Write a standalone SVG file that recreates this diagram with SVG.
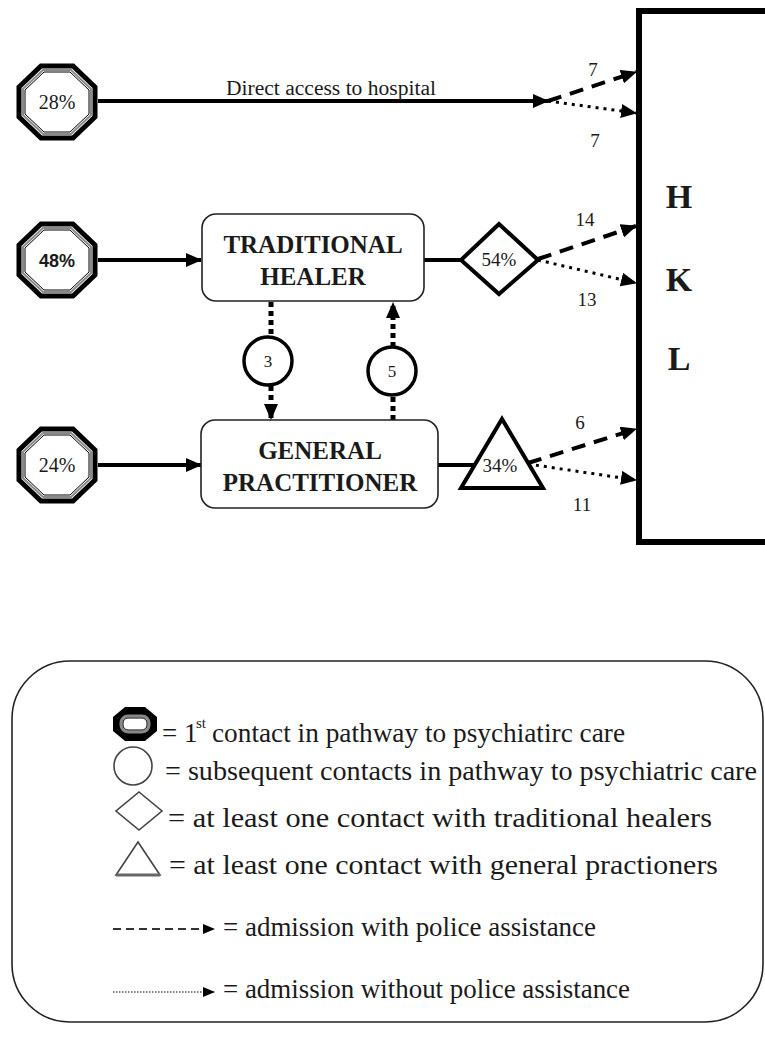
<svg xmlns="http://www.w3.org/2000/svg" width="765" height="1050" viewBox="0 0 765 1050">
<style>
text{font-family:"Times New Roman","Liberation Serif",Tinos,"Noto Serif",serif;fill:#1a1a1a}
.bold{font-weight:bold}
.box{fill:#fff;stroke:#222;stroke-width:1.6}
.solid{stroke:#000;stroke-width:4;fill:none}
.dash{stroke:#000;stroke-width:4;fill:none;stroke-dasharray:14 9}
.dot{stroke:#000;stroke-width:3;fill:none;stroke-dasharray:3 5}
.vdot{stroke:#000;stroke-width:5;fill:none;stroke-dasharray:5 4}
.shape{fill:#fff;stroke:#000;stroke-width:4}
.lg{fill:#fff;stroke:#444;stroke-width:1.6}
</style>
<defs>
<marker id="ah" markerUnits="userSpaceOnUse" markerWidth="16" markerHeight="14" refX="15" refY="7" orient="auto">
<path d="M0,0 L16,7 L0,14 z" fill="#000"/>
</marker>
<marker id="ahs" markerUnits="userSpaceOnUse" markerWidth="12" markerHeight="10" refX="11" refY="5" orient="auto">
<path d="M0,0 L12,5 L0,10 z" fill="#000"/>
</marker>
<g id="oct">
<polygon points="-16,-36 16,-36 38,-15 38,15 16,36 -16,36 -38,15 -38,-15" fill="#fff" stroke="#000" stroke-width="5"/>
<polygon points="-14,-32 14,-32 34,-13 34,13 14,32 -14,32 -34,13 -34,-13" fill="none" stroke="#8a8a8a" stroke-width="2"/>
<polygon points="-13,-30 13,-30 32,-12 32,12 13,30 -13,30 -32,12 -32,-12" fill="none" stroke="#000" stroke-width="1"/>
</g>
</defs>

<g id="connectors">
<line class="solid" x1="98" y1="101" x2="548" y2="101" marker-end="url(#ah)"/>
<line class="dash" x1="548" y1="101" x2="636" y2="72" marker-end="url(#ah)"/>
<line class="dot" x1="548" y1="101" x2="636" y2="113" marker-end="url(#ah)"/>
<line class="solid" x1="98" y1="260" x2="201" y2="260" marker-end="url(#ah)"/>
<line class="solid" x1="424" y1="260" x2="461" y2="260"/>
<line class="dash" x1="538" y1="259" x2="636" y2="226" marker-end="url(#ah)"/>
<line class="dot" x1="538" y1="260" x2="636" y2="283" marker-end="url(#ah)"/>
<line class="solid" x1="98" y1="465" x2="201" y2="465" marker-end="url(#ah)"/>
<line class="solid" x1="438" y1="465" x2="474" y2="465"/>
<line class="dash" x1="528" y1="463" x2="636" y2="429" marker-end="url(#ah)"/>
<line class="dot" x1="528" y1="464" x2="636" y2="480" marker-end="url(#ah)"/>
<line class="vdot" x1="271" y1="302" x2="271" y2="337"/>
<line class="vdot" x1="271" y1="386" x2="271" y2="419" marker-end="url(#ah)"/>
<line class="vdot" x1="393" y1="420" x2="393" y2="396"/>
<line class="vdot" x1="393" y1="347" x2="393" y2="303" marker-end="url(#ah)"/>
<text x="331" y="95" font-size="20" text-anchor="middle" textLength="210" lengthAdjust="spacingAndGlyphs">Direct access to hospital</text>
<text x="593" y="76" font-size="19" text-anchor="middle">7</text>
<text x="595" y="147" font-size="19" text-anchor="middle">7</text>
<text x="585" y="226" font-size="19" text-anchor="middle">14</text>
<text x="587" y="306" font-size="19" text-anchor="middle">13</text>
<text x="580" y="429" font-size="19" text-anchor="middle">6</text>
<text x="582" y="511" font-size="19" text-anchor="middle">11</text>
</g>

<g id="start-hospital">
<use href="#oct" x="57" y="102"/>
<text x="57" y="109" font-size="20" text-anchor="middle">28%</text>
</g>
<g id="start-healer">
<use href="#oct" x="57" y="260"/>
<text x="57" y="267" font-size="18" font-weight="bold" style="font-family:Arial,'Liberation Sans',sans-serif" fill="#222" text-anchor="middle">48%</text>
</g>
<g id="start-gp">
<use href="#oct" x="57" y="465"/>
<text x="57" y="472" font-size="20" text-anchor="middle">24%</text>
</g>

<g id="traditional-healer">
<rect class="box" x="202" y="214" width="222" height="87" rx="14"/>
<text class="bold" x="313" y="253" font-size="25" text-anchor="middle">TRADITIONAL</text>
<text class="bold" x="313" y="285" font-size="25" text-anchor="middle">HEALER</text>
</g>

<g id="general-practitioner">
<rect class="box" x="201" y="420" width="237" height="88" rx="14"/>
<text class="bold" x="320" y="459" font-size="25" text-anchor="middle">GENERAL</text>
<text class="bold" x="320" y="491" font-size="25" text-anchor="middle">PRACTITIONER</text>
</g>

<g id="th-to-gp">
<circle cx="268" cy="361" r="24" fill="#fff" stroke="#000" stroke-width="3.5"/>
<text x="268" y="367" font-size="17" text-anchor="middle">3</text>
</g>
<g id="gp-to-th">
<circle cx="392" cy="371" r="24" fill="#fff" stroke="#000" stroke-width="3.5"/>
<text x="392" y="377" font-size="17" text-anchor="middle">5</text>
</g>

<g id="healer-contact">
<polygon class="shape" points="499,224 538,260 499,294 461,260"/>
<text x="499" y="266" font-size="19" text-anchor="middle">54%</text>
</g>

<g id="gp-contact">
<polygon class="shape" points="502,419 543,488 461,488"/>
<text x="500" y="472" font-size="19" text-anchor="middle">34%</text>
</g>

<g id="hkl">
<rect x="639" y="11" width="140" height="531" fill="#fff" stroke="#000" stroke-width="6"/>
<text class="bold" x="679" y="208" font-size="34" text-anchor="middle">H</text>
<text class="bold" x="679" y="291" font-size="34" text-anchor="middle">K</text>
<text class="bold" x="679" y="370" font-size="34" text-anchor="middle">L</text>
</g>

<g id="legend">
<rect x="12" y="661" width="751" height="361" rx="58" fill="#fff" stroke="#222" stroke-width="1.6"/>
<polygon points="125,707 145,707 157,717 157,731 145,741 125,741 113,731 113,717" fill="#000"/>
<rect x="121" y="716" width="28" height="16" rx="7" fill="#fff" stroke="#888" stroke-width="3"/>
<rect x="123" y="718" width="24" height="12" rx="5" fill="none" stroke="#000" stroke-width="1"/>
<text x="162" y="742" font-size="27">= 1</text>
<text x="196" y="728" font-size="15">st</text>
<text x="212" y="742" font-size="27" textLength="413" lengthAdjust="spacingAndGlyphs">contact in pathway to psychiatirc care</text>
<circle class="lg" cx="133" cy="766" r="19"/>
<text x="165" y="780" font-size="27" textLength="592" lengthAdjust="spacingAndGlyphs">= subsequent contacts in pathway to psychiatric care</text>
<polygon class="lg" points="139,792 162,811 139,830 116,811"/>
<text x="168" y="827" font-size="27" textLength="544" lengthAdjust="spacingAndGlyphs">= at least one contact with traditional healers</text>
<polygon class="lg" points="138,842 160,875 116,875"/>
<line x1="116" y1="875" x2="160" y2="875" stroke="#666" stroke-width="3"/>
<text x="169" y="874" font-size="27" textLength="549" lengthAdjust="spacingAndGlyphs">= at least one contact with general practioners</text>
<line x1="113" y1="929" x2="214" y2="929" stroke="#333" stroke-width="2" stroke-dasharray="8 5" marker-end="url(#ahs)"/>
<text x="223" y="936" font-size="27" textLength="373" lengthAdjust="spacingAndGlyphs">= admission with police assistance</text>
<line x1="113" y1="992" x2="214" y2="992" stroke="#555" stroke-width="1.5" stroke-dasharray="1.5 1.5" marker-end="url(#ahs)"/>
<text x="223" y="998" font-size="27" textLength="407" lengthAdjust="spacingAndGlyphs">= admission without police assistance</text>
</g>
</svg>
